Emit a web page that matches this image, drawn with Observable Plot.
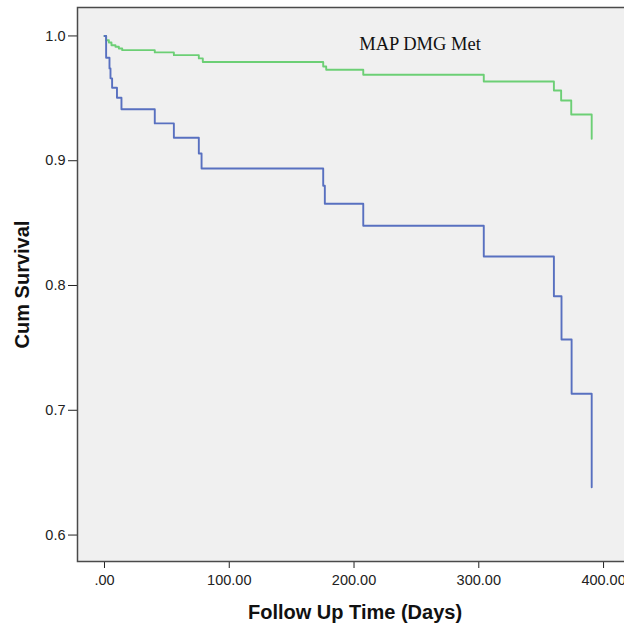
<!DOCTYPE html>
<html>
<head>
<meta charset="utf-8">
<script src="https://cdn.jsdelivr.net/npm/d3@7"></script>
<script src="https://cdn.jsdelivr.net/npm/@observablehq/plot@0.6"></script>
<style>
  html, body { margin: 0; padding: 0; background: #fff; overflow: hidden; }
</style>
</head>
<body>
<div id="chart"></div>
<script>
// Kaplan–Meier steps (time in days, cumulative survival)
const blueTimes    = [0, 1.3, 4.0, 4.8, 6.1, 10.0, 13.6, 40.3, 55.6, 75.6, 77.8, 175.3, 176.6, 207.4, 304.0, 360.2, 366.3, 374.4, 390.5];
const blueSurvival = [1.0, 0.9825, 0.974, 0.966, 0.9585, 0.9505, 0.9413, 0.9299, 0.9184, 0.9058, 0.8938, 0.880, 0.8655, 0.8479, 0.8232, 0.7914, 0.7567, 0.7132, 0.6383];

const greenTimes    = [0, 1.3, 3.5, 5.6, 8.8, 11.5, 14.2, 40.3, 55.6, 75.6, 78.8, 175.3, 177.7, 207.4, 304.0, 360.2, 366.0, 374.1, 390.5];
const greenSurvival = [1.0, 0.9966, 0.9948, 0.9926, 0.9913, 0.990, 0.9886, 0.9868, 0.9846, 0.982, 0.9791, 0.9755, 0.9729, 0.9689, 0.9635, 0.9563, 0.9483, 0.9371, 0.9176];

const xTicks = [0, 100, 200, 300, 400];
const xTickLabels = [".00", "100.00", "200.00", "300.00", "400.00"];
const yTicks = [0.6, 0.7, 0.8, 0.9, 1.0];
const yTickLabels = ["0.6", "0.7", "0.8", "0.9", "1.0"];

const xTitle = "Follow Up Time (Days)";
const yTitle = "Cum Survival";
const annotation = [{text: "MAP DMG Met", t: 252.9, s: 0.9932}];

const blueData = blueTimes.map((t, i) => ({t, s: blueSurvival[i]}));
const greenData = greenTimes.map((t, i) => ({t, s: greenSurvival[i]}));

const plot = Plot.plot({
  width: 632,
  height: 633,
  marginLeft: 77,
  marginTop: 7,
  marginBottom: 72,
  marginRight: 0,
  style: {
    background: "#ffffff",
    fontFamily: "'Liberation Sans', Arial, sans-serif",
    fontSize: "14.5px",
    color: "#222",
    maxWidth: "none",
    overflow: "hidden"
  },
  x: {
    domain: [-21.64, 423.2],
    ticks: xTicks,
    tickFormat: d => xTickLabels[xTicks.indexOf(d)],
    tickSize: 7,
    tickPadding: 6,
    label: null
  },
  y: {
    domain: [0.5788, 1.0228],
    ticks: yTicks,
    tickFormat: d => yTickLabels[yTicks.findIndex(v => Math.abs(v - d) < 1e-9)],
    tickSize: 9,
    tickPadding: 3,
    label: null
  },
  marks: [
    Plot.frame({fill: "#f0f0f0", stroke: "#4a4a4a", strokeWidth: 1.5}),
    Plot.line(greenData, {x: "t", y: "s", curve: "step-after", stroke: "#6ccf75", strokeWidth: 1.9}),
    Plot.line(blueData, {x: "t", y: "s", curve: "step-after", stroke: "#5870c0", strokeWidth: 1.9}),
    Plot.text(annotation, {x: "t", y: "s", text: "text", fontFamily: "'Liberation Serif', 'Times New Roman', serif", fontSize: 18.5, fill: "#111", textAnchor: "middle"}),
    Plot.text([yTitle], {frameAnchor: "left", dx: -55, rotate: -90, text: d => d, textAnchor: "middle", lineAnchor: "middle", fontWeight: "bold", fontSize: 20, fill: "#111"}),
    Plot.text([xTitle], {frameAnchor: "bottom", dy: 51, text: d => d, textAnchor: "middle", lineAnchor: "middle", fontWeight: "bold", fontSize: 20, fill: "#111"})
  ]
});

document.getElementById("chart").appendChild(plot);
</script>
</body>
</html>
